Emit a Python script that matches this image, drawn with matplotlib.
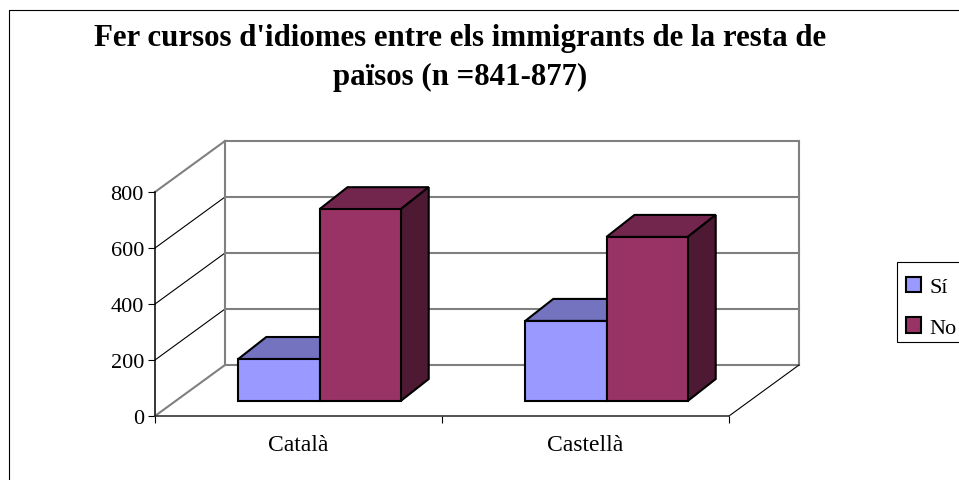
import matplotlib
matplotlib.use('Agg')
import matplotlib.pyplot as plt
from matplotlib.lines import Line2D
from matplotlib.patches import Patch, Rectangle

plt.rcParams['font.family'] = ['Liberation Serif', 'DejaVu Serif']

W, H = 959, 481

## Data
categories = ['Català', 'Castellà']
series_names = ['Sí', 'No']
si_values = [150, 286]
no_values = [685, 586]
y_ticks = [0, 200, 400, 600, 800]

## Colours : front, top, side
si_colors = ('#9999FF', '#7373BF', '#4D4D80')
no_colors = ('#993366', '#73264D', '#4D1933')
wall_color = '#808080'

""" Setting figure """

fig = plt.figure(figsize=(W/100, H/100), dpi=100)

## Axes is the front plane of the fake 3D box
left, right, bottom, top = 155, 729, 417, 193
ax = fig.add_axes([left/W, 1-bottom/H, (right-left)/W, (bottom-top)/H])
ax.set_xlim(0, 2)
ax.set_ylim(0, 800)
ax.patch.set_visible(False)

## Pixel to data conversion for the depth offsets
px_x = 2/(right-left)
px_y = 800/(bottom-top)

wall_dx, wall_dy = 70*px_x, 51*px_y
bar_dx, bar_dy = 28*px_x, 22*px_y
base_dx, base_dy = 21*px_x, 15*px_y
bar_width = 0.283

## Walls
for v in y_ticks:
    ax.plot([2+wall_dx, wall_dx], [v+wall_dy, v+wall_dy], color=wall_color, lw=1.5, clip_on=False, zorder=1)
    outer = v in (0, 800)
    ax.plot([0, wall_dx], [v, v+wall_dy], color=wall_color if outer else 'black',
            lw=1.5 if outer else 0.8, clip_on=False, zorder=1)
ax.plot([wall_dx, wall_dx], [wall_dy, 800+wall_dy], color=wall_color, lw=1.5, clip_on=False, zorder=1)
ax.plot([2+wall_dx, 2+wall_dx], [wall_dy, 800+wall_dy], color=wall_color, lw=1.5, clip_on=False, zorder=1)
ax.plot([2, 2+wall_dx], [0, wall_dy], color='black', lw=0.8, clip_on=False, zorder=1)


def bar3d(x0, value, colors, z):
    x1 = x0+bar_width
    y0 = base_dy
    y1 = base_dy+value
    ax.fill([x0, x1, x1+bar_dx, x0+bar_dx], [y1, y1, y1+bar_dy, y1+bar_dy],
            facecolor=colors[1], edgecolor='black', lw=1.5, clip_on=False, zorder=z)
    ax.fill([x1, x1+bar_dx, x1+bar_dx, x1], [y0, y0+bar_dy, y1+bar_dy, y1],
            facecolor=colors[2], edgecolor='black', lw=1.5, clip_on=False, zorder=z)
    ax.bar(x0, value, width=bar_width, bottom=y0, align='edge', facecolor=colors[0],
           edgecolor='black', lw=1.5, clip_on=False, zorder=z)


for i in range(len(categories)):
    start = i+0.5+base_dx-bar_width
    bar3d(start, si_values[i], si_colors, 3)
    bar3d(start+bar_width, no_values[i], no_colors, 4)

## Axes and ticks
ax.spines['top'].set_visible(False)
ax.spines['right'].set_visible(False)
ax.spines['left'].set_linewidth(1.1)
ax.spines['bottom'].set_linewidth(1.2)
ax.spines['bottom'].set_color('#333333')
ax.set_yticks(y_ticks)
ax.set_xticks([0, 1, 2])
ax.set_xticklabels([])
ax.set_xticks([0.5, 1.5], minor=True)
ax.set_xticklabels(categories, minor=True, fontsize=17)
ax.tick_params(axis='x', which='minor', length=0, pad=13)
ax.tick_params(axis='x', which='major', length=5, width=0.8)
ax.tick_params(axis='y', length=5, width=0.8, pad=3, labelsize=16)

## Title
fig.text(460/W, 1-46/H, "Fer cursos d'idiomes entre els immigrants de la resta de",
         ha='center', va='baseline', fontsize=22.2, fontweight='bold')
fig.text(460/W, 1-85/H, "països (n =841-877)",
         ha='center', va='baseline', fontsize=22.2, fontweight='bold')

## Outer frame, cut by the image on the right and the bottom
fig.add_artist(Line2D([9/W, 9/W, 1], [0, 1-11/H, 1-11/H], color='black', lw=0.8))

## Legend, the box runs off the image so it is drawn apart
fig.add_artist(Rectangle((897/W, 1-343/H), 80/W, 80/H, facecolor='white', edgecolor='black', lw=0.8))
handles = [Patch(facecolor=si_colors[0], edgecolor='black', lw=1.5),
           Patch(facecolor=no_colors[0], edgecolor='black', lw=1.5)]
leg = fig.legend(handles, series_names, loc='upper left', bbox_to_anchor=(906/W, 1-278/H),
                 borderaxespad=0, fontsize=16, frameon=False, handlelength=0.68, handleheight=0.68,
                 handletextpad=0.36, labelspacing=0.9, borderpad=0)
leg.set_zorder(5)

plt.savefig('out.png', dpi=100)
